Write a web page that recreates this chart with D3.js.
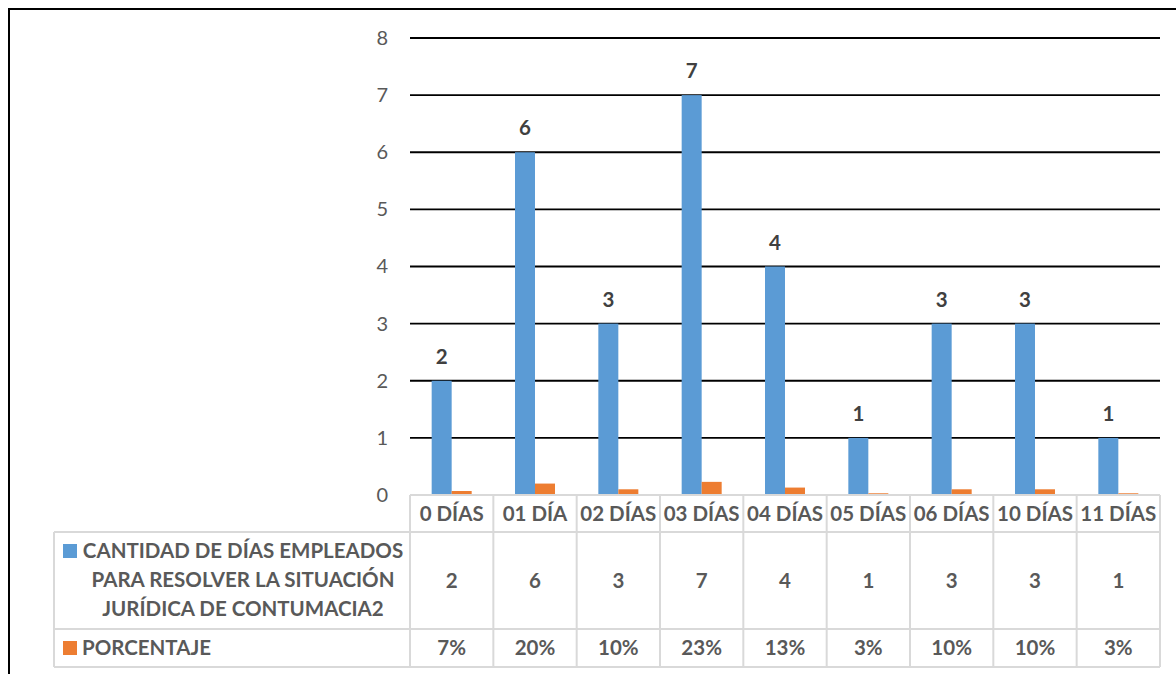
<!DOCTYPE html>
<html><head><meta charset="utf-8">
<script src="https://cdn.jsdelivr.net/npm/d3@7"></script>
<style>body{margin:0;background:#fff}svg{display:block}text{font-family:Lato,"Open Sans",sans-serif}</style>
</head><body>
<svg id="c" width="1176" height="674"></svg>
<script>
const categories = ["0 DÍAS","01 DÍA","02 DÍAS","03 DÍAS","04 DÍAS","05 DÍAS","06 DÍAS","10 DÍAS","11 DÍAS"];
const cantidad = [2,6,3,7,4,1,3,3,1];
const porcentaje = [0.07,0.20,0.10,0.23,0.13,0.03,0.10,0.10,0.03];
const porcentajeLabels = ["7%","20%","10%","23%","13%","3%","10%","10%","3%"];
const seriesNames = ["CANTIDAD DE DÍAS EMPLEADOS PARA RESOLVER LA SITUACIÓN JURÍDICA DE CONTUMACIA2","PORCENTAJE"];
const legendLines = ["CANTIDAD DE DÍAS EMPLEADOS","PARA RESOLVER LA SITUACIÓN","JURÍDICA DE CONTUMACIA2"];
const yTicks = [0,1,2,3,4,5,6,7,8];
const colors = ["#5B9BD5","#ED7D31"];

const svg = d3.select("#c");
// outer border
svg.append("rect").attr("x",9).attr("y",9).attr("width",1180).attr("height",680)
  .attr("fill","none").attr("stroke","#000").attr("stroke-width",2);

const x = d3.scaleBand().domain(categories).range([410,1160]).padding(0);
const y = d3.scaleLinear().domain([0,8]).range([495,38]);
const bw = x.bandwidth();
const x1 = d3.scaleBand().domain(["c","p"]).range([bw/2-20, bw/2+20]).padding(0);

// gridlines
svg.append("g").selectAll("line").data(yTicks.filter(d=>d>0)).join("line")
  .attr("x1",410).attr("x2",1160).attr("y1",d=>y(d)).attr("y2",d=>y(d))
  .attr("stroke","#000").attr("stroke-width",1.8);

// y axis labels
const yAxis = d3.axisLeft(y).tickValues(yTicks).tickSize(0).tickPadding(0).tickFormat(d3.format("d"));
const ga = svg.append("g").attr("transform","translate(388,0)").call(yAxis);
ga.select(".domain").remove();
ga.selectAll("text").attr("font-size",20).attr("fill","#595959").attr("font-family","Lato,sans-serif");

// bars
const g = svg.append("g");
g.selectAll("rect.c").data(cantidad).join("rect").attr("class","c")
  .attr("x",(d,i)=>x(categories[i])+x1("c")).attr("width",x1.bandwidth())
  .attr("y",d=>y(d)).attr("height",d=>y(0)-y(d)).attr("fill",colors[0]);
g.selectAll("rect.p").data(porcentaje).join("rect").attr("class","p")
  .attr("x",(d,i)=>x(categories[i])+x1("p")).attr("width",x1.bandwidth())
  .attr("y",d=>y(d)).attr("height",d=>y(0)-y(d)).attr("fill",colors[1]);
// data labels
g.selectAll("text.dl").data(cantidad).join("text").attr("class","dl")
  .attr("x",(d,i)=>x(categories[i])+x1("c")+x1.bandwidth()/2).attr("y",d=>y(d)-17)
  .attr("text-anchor","middle").attr("font-size",20.5).attr("font-weight","bold").attr("fill","#404040")
  .text(d=>d);

// table
const tg = svg.append("g");
const gridC = "#d9d9d9";
const rowY = [495,532,629,667];
tg.append("line").attr("x1",410).attr("x2",1160).attr("y1",rowY[0]).attr("y2",rowY[0]).attr("stroke",gridC).attr("stroke-width",2);
[1,2,3].forEach(k=>tg.append("line").attr("x1",54).attr("x2",1160).attr("y1",rowY[k]).attr("y2",rowY[k]).attr("stroke",gridC).attr("stroke-width",2));
const vx = categories.map(c=>x(c)).concat([1160]);
tg.selectAll("line.v").data(vx).join("line").attr("class","v")
  .attr("x1",d=>d).attr("x2",d=>d).attr("y1",rowY[0]).attr("y2",rowY[3]).attr("stroke",gridC).attr("stroke-width",2);
tg.append("line").attr("x1",54).attr("x2",54).attr("y1",rowY[1]).attr("y2",rowY[3]).attr("stroke",gridC).attr("stroke-width",2);

const tstyle = s=>s.attr("font-size",20.5).attr("font-weight","bold").attr("fill","#595959").attr("text-anchor","middle");
tg.selectAll("text.cat").data(categories).join("text").attr("class","cat")
  .attr("x",d=>x(d)+bw/2).attr("y",521).call(tstyle).text(d=>d);
tg.selectAll("text.v1").data(cantidad).join("text").attr("class","v1")
  .attr("x",(d,i)=>x(categories[i])+bw/2).attr("y",588).call(tstyle).text(d=>d);
tg.selectAll("text.v2").data(porcentajeLabels).join("text").attr("class","v2")
  .attr("x",(d,i)=>x(categories[i])+bw/2).attr("y",655).call(tstyle).text(d=>d);

// legend
tg.append("rect").attr("x",63).attr("y",544).attr("width",14).attr("height",14).attr("fill",colors[0]);
tg.selectAll("text.lg").data(legendLines).join("text").attr("class","lg")
  .attr("x",243).attr("y",(d,i)=>558+i*29).call(tstyle).text(d=>d);
tg.append("rect").attr("x",63).attr("y",641).attr("width",14).attr("height",14).attr("fill",colors[1]);
tg.append("text").attr("x",82).attr("y",655).call(tstyle).attr("text-anchor","start").text(seriesNames[1]);
</script>
</body></html>
